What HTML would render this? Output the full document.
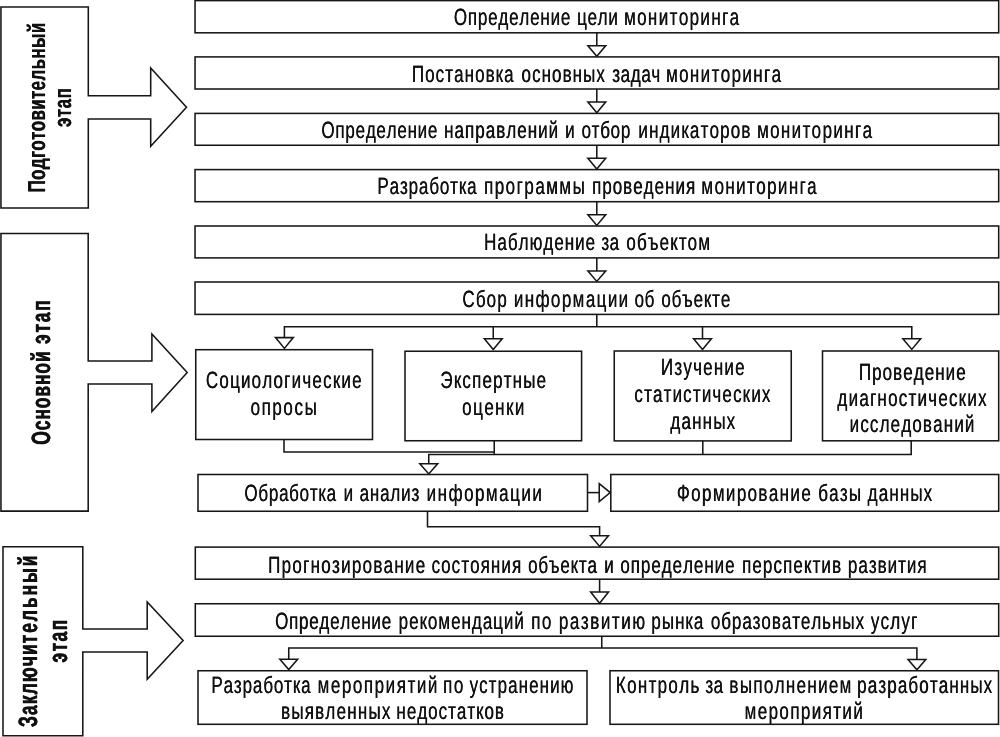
<!DOCTYPE html>
<html lang="ru"><head><meta charset="utf-8"><title>Этапы мониторинга</title>
<style>
html,body{margin:0;padding:0;background:#fff;}
body{width:1000px;height:737px;overflow:hidden;}
svg{display:block;will-change:transform;filter:grayscale(1);}
.ln *{fill:#fff;stroke:#161616;stroke-width:1.55;stroke-linejoin:miter;stroke-linecap:butt;}
.ln path.o{fill:none;}
text{text-rendering:geometricPrecision;font-kerning:none;font-family:"Liberation Sans",Arial,Helvetica,sans-serif;font-size:23.5px;fill:#111;}
text{text-shadow:0.4px 0 0 #111;}
text.b{font-weight:bold;font-size:26.5px;text-shadow:0.9px 0 0 #111;stroke:#111;stroke-width:0.3px;}
</style></head><body>
<svg width="1000" height="737" viewBox="0 0 1000 737">
<rect width="1000" height="737" fill="#fff"/>
<g class="ln">
<rect x="195.05" y="0.6" width="803.65" height="32.2"/>
<rect x="195.05" y="56.9" width="803.65" height="32.1"/>
<rect x="195.05" y="113.4" width="803.65" height="31.85"/>
<rect x="195.05" y="169.6" width="803.65" height="32.1"/>
<rect x="195.05" y="226.0" width="803.65" height="31.9"/>
<rect x="195.05" y="282.0" width="803.65" height="32.4"/>
<path class="o" d="M596.8 32.8 L596.8 45.8"/>
<path d="M587.9 45.8 L605.7 45.8 L596.8 56.3 Z"/>
<path class="o" d="M596.8 89.0 L596.8 102.0"/>
<path d="M587.9 102.0 L605.7 102.0 L596.8 112.8 Z"/>
<path class="o" d="M596.8 145.25 L596.8 158.25"/>
<path d="M587.9 158.25 L605.7 158.25 L596.8 169.0 Z"/>
<path class="o" d="M596.8 201.7 L596.8 214.7"/>
<path d="M587.9 214.7 L605.7 214.7 L596.8 225.4 Z"/>
<path class="o" d="M596.8 257.9 L596.8 270.9"/>
<path d="M587.9 270.9 L605.7 270.9 L596.8 281.4 Z"/>
<path class="o" d="M596.8 314.4 L596.8 326.8"/>
<path class="o" d="M284.4 337.6 L284.4 326.8 L911.8 326.8 L911.8 338.6"/>
<path class="o" d="M493.25 326.8 L493.25 338.6"/>
<path class="o" d="M702.5 326.8 L702.5 338.6"/>
<path d="M275.5 337.6 L293.3 337.6 L284.4 348.4 Z"/>
<path d="M484.35 338.7 L502.15 338.7 L493.25 349.6 Z"/>
<path d="M693.6 338.7 L711.4 338.7 L702.5 349.6 Z"/>
<path d="M902.9 338.7 L920.7 338.7 L911.8 349.4 Z"/>
<rect x="195.75" y="349.7" width="176.75" height="89.8"/>
<rect x="405.0" y="351.25" width="176.6" height="89.5"/>
<rect x="614.25" y="351.0" width="177.0" height="89.9"/>
<rect x="822.5" y="351.0" width="176.2" height="89.8"/>
<path class="o" d="M284 439.5 L284 452.0 L494.25 452.0"/>
<path class="o" d="M494.25 440.75 L494.25 454.4"/>
<path class="o" d="M428.75 463.75 L428.75 454.4 L911.2 454.4 L911.2 440.4"/>
<path class="o" d="M702.8 440.75 L702.8 454.4"/>
<path d="M419.85 463.75 L437.65 463.75 L428.75 473.9 Z"/>
<rect x="198.0" y="474.5" width="389.5" height="36.75"/>
<rect x="610.8" y="474.5" width="387.9" height="36.75"/>
<path class="o" d="M587.5 492.6 L599.25 492.6"/>
<path d="M599.25 483.7 L599.25 501.5 L610.2 492.6 Z"/>
<path class="o" d="M427.5 511.25 L427.5 526.75 L599.6 526.75 L599.6 535.75"/>
<path d="M590.7 535.75 L608.5 535.75 L599.6 546.4 Z"/>
<rect x="195.3" y="547.1" width="803.4" height="32.1"/>
<rect x="195.3" y="603.75" width="803.4" height="32.5"/>
<path class="o" d="M599.6 579.2 L599.6 592.0"/>
<path d="M590.7 592.0 L608.5 592.0 L599.6 603.2 Z"/>
<path class="o" d="M601.75 636.25 L601.75 648.0"/>
<path class="o" d="M288.75 659.3 L288.75 648.0 L916.9 648.0 L916.9 659.4"/>
<path d="M279.85 659.3 L297.65 659.3 L288.75 669.6 Z"/>
<path d="M908.0 659.4 L925.8 659.4 L916.9 669.8 Z"/>
<rect x="198.0" y="670.75" width="389.0" height="53.55"/>
<rect x="610.0" y="670.75" width="388.5" height="53.55"/>
<path d="M0.95 7.0 L88.3 7.0 L88.3 95.8 L150.7 95.8 L150.7 68.0 L186.5 107.3 L150.7 146.3 L150.7 119.0 L88.3 119.0 L88.3 208.0 L0.95 208.0 Z"/>
<path d="M0.95 233.5 L88.2 233.5 L88.2 361.0 L151.9 361.0 L151.9 333.9 L187.2 372.5 L151.9 411.4 L151.9 384.0 L88.2 384.0 L88.2 511.1 L0.95 511.1 Z"/>
<path d="M3.0 546.8 L82.8 546.8 L82.8 628.9 L147.2 628.9 L147.2 602.0 L183.1 640.5 L147.2 679.3 L147.2 651.9 L82.8 651.9 L82.8 735.8 L3.0 735.8 Z"/>
</g>
<g>
<text transform="translate(0 24.9) scale(0.723 1)"><tspan x="627.52" style="letter-spacing:1.134px">Определение</tspan> <tspan x="797.96" style="letter-spacing:1.001px">цели</tspan> <tspan x="862.96" style="letter-spacing:1.919px">мониторинга</tspan></text>
<text transform="translate(0 82.4) scale(0.723 1)"><tspan x="569.46" style="letter-spacing:1.483px">Постановка</tspan> <tspan x="721.14" style="letter-spacing:1.463px">основных</tspan> <tspan x="846.60" style="letter-spacing:0.878px">задач</tspan> <tspan x="921.05" style="letter-spacing:1.905px">мониторинга</tspan></text>
<text transform="translate(0 137.5) scale(0.723 1)"><tspan x="444.39" style="letter-spacing:1.051px">Определение</tspan> <tspan x="614.00" style="letter-spacing:1.448px">направлений</tspan> <tspan x="781.54" style="letter-spacing:0.000px">и</tspan> <tspan x="804.13" style="letter-spacing:1.026px">отбор</tspan> <tspan x="882.88" style="letter-spacing:1.604px">индикаторов</tspan> <tspan x="1046.92" style="letter-spacing:1.905px">мониторинга</tspan></text>
<text transform="translate(0 193.8) scale(0.723 1)"><tspan x="521.86" style="letter-spacing:1.211px">Разработка</tspan> <tspan x="669.32" style="letter-spacing:2.073px">программы</tspan> <tspan x="818.70" style="letter-spacing:1.405px">проведения</tspan> <tspan x="970.02" style="letter-spacing:1.933px">мониторинга</tspan></text>
<text transform="translate(0 250.0) scale(0.723 1)"><tspan x="669.44" style="letter-spacing:1.407px">Наблюдение</tspan> <tspan x="831.50" style="letter-spacing:0.830px">за</tspan> <tspan x="866.23" style="letter-spacing:1.578px">объектом</tspan></text>
<text transform="translate(0 307.0) scale(0.723 1)"><tspan x="639.33" style="letter-spacing:1.603px">Сбор</tspan> <tspan x="710.54" style="letter-spacing:1.961px">информации</tspan> <tspan x="877.61" style="letter-spacing:0.830px">об</tspan> <tspan x="914.50" style="letter-spacing:1.165px">объекте</tspan></text>
<text transform="translate(0 387.7) scale(0.723 1)"><tspan x="284.56" style="letter-spacing:1.690px">Социологические</tspan></text>
<text transform="translate(0 414.9) scale(0.723 1)"><tspan x="346.32" style="letter-spacing:2.223px">опросы</tspan></text>
<text transform="translate(0 387.9) scale(0.723 1)"><tspan x="609.03" style="letter-spacing:1.623px">Экспертные</tspan></text>
<text transform="translate(0 414.8) scale(0.723 1)"><tspan x="639.12" style="letter-spacing:2.007px">оценки</tspan></text>
<text transform="translate(0 374.8) scale(0.723 1)"><tspan x="913.98" style="letter-spacing:1.685px">Изучение</tspan></text>
<text transform="translate(0 401.8) scale(0.723 1)"><tspan x="877.29" style="letter-spacing:1.598px">статистических</tspan></text>
<text transform="translate(0 428.5) scale(0.723 1)"><tspan x="927.02" style="letter-spacing:1.663px">данных</tspan></text>
<text transform="translate(0 379.8) scale(0.723 1)"><tspan x="1187.72" style="letter-spacing:1.469px">Проведение</tspan></text>
<text transform="translate(0 406) scale(0.723 1)"><tspan x="1158.14" style="letter-spacing:1.707px">диагностических</tspan></text>
<text transform="translate(0 432.4) scale(0.723 1)"><tspan x="1175.00" style="letter-spacing:1.598px">исследований</tspan></text>
<text transform="translate(0 501.4) scale(0.723 1)"><tspan x="337.89" style="letter-spacing:1.022px">Обработка</tspan> <tspan x="475.04" style="letter-spacing:0.000px">и</tspan> <tspan x="497.07" style="letter-spacing:1.185px">анализ</tspan> <tspan x="589.93" style="letter-spacing:2.084px">информации</tspan></text>
<text transform="translate(0 501.4) scale(0.723 1)"><tspan x="935.99" style="letter-spacing:1.917px">Формирование</tspan> <tspan x="1131.54" style="letter-spacing:1.702px">базы</tspan> <tspan x="1199.91" style="letter-spacing:1.580px">данных</tspan></text>
<text transform="translate(0 572.8) scale(0.723 1)"><tspan x="370.71" style="letter-spacing:1.770px">Прогнозирование</tspan> <tspan x="596.79" style="letter-spacing:1.496px">состояния</tspan> <tspan x="730.13" style="letter-spacing:1.153px">объекта</tspan> <tspan x="835.55" style="letter-spacing:0.000px">и</tspan> <tspan x="857.80" style="letter-spacing:1.338px">определение</tspan> <tspan x="1026.17" style="letter-spacing:1.543px">перспектив</tspan> <tspan x="1172.62" style="letter-spacing:1.382px">развития</tspan></text>
<text transform="translate(0 628.6) scale(0.723 1)"><tspan x="380.21" style="letter-spacing:1.078px">Определение</tspan> <tspan x="551.18" style="letter-spacing:1.371px">рекомендаций</tspan> <tspan x="734.61" style="letter-spacing:1.994px">по</tspan> <tspan x="772.76" style="letter-spacing:2.171px">развитию</tspan> <tspan x="900.84" style="letter-spacing:1.338px">рынка</tspan> <tspan x="982.97" style="letter-spacing:1.315px">образовательных</tspan> <tspan x="1204.23" style="letter-spacing:1.709px">услуг</tspan></text>
<text transform="translate(0 692.6) scale(0.723 1)"><tspan x="292.26" style="letter-spacing:1.211px">Разработка</tspan> <tspan x="439.17" style="letter-spacing:2.161px">мероприятий</tspan> <tspan x="612.62" style="letter-spacing:2.271px">по</tspan> <tspan x="649.32" style="letter-spacing:1.481px">устранению</tspan></text>
<text transform="translate(0 719.4) scale(0.723 1)"><tspan x="388.55" style="letter-spacing:1.700px">выявленных</tspan> <tspan x="548.16" style="letter-spacing:1.370px">недостатков</tspan></text>
<text transform="translate(0 692.8) scale(0.723 1)"><tspan x="851.60" style="letter-spacing:1.841px">Контроль</tspan> <tspan x="975.35" style="letter-spacing:0.830px">за</tspan> <tspan x="1008.74" style="letter-spacing:1.841px">выполнением</tspan> <tspan x="1185.35" style="letter-spacing:1.568px">разработанных</tspan></text>
<text transform="translate(0 719.4) scale(0.723 1)"><tspan x="1029.77" style="letter-spacing:1.940px">мероприятий</tspan></text>
<text class="b" transform="translate(45.0 192.58) rotate(-90) scale(0.69 1)" style="font-size:24.5px;letter-spacing:0.559px;text-shadow:0.5px 0 0 #111;stroke-width:0.1px">Подготовительный</text>
<text class="b" transform="translate(70.8 127.18) rotate(-90) scale(0.69 1)" style="font-size:24.5px;letter-spacing:0.764px;text-shadow:0.5px 0 0 #111;stroke-width:0.1px">этап</text>
<text class="b" transform="translate(49.9 0) rotate(-90) scale(0.66 1)" style="font-size:26.5px;text-shadow:0.55px 0 0 #111;stroke-width:0.2px"><tspan x="-674.12" style="letter-spacing:1.331px">Основной</tspan> <tspan x="-521.28" style="letter-spacing:2.525px">этап</tspan></text>
<text class="b" transform="translate(36.9 0) rotate(-90) scale(0.66 1)" style="font-size:26.5px;text-shadow:0.55px 0 0 #111;stroke-width:0.2px"><tspan x="-1101.96" style="letter-spacing:1.633px">Заключи</tspan><tspan x="-974.99" style="letter-spacing:2.891px">тельный</tspan></text>
<text class="b" transform="translate(66.5 662.64) rotate(-90) scale(0.66 1)" style="font-size:26.5px;letter-spacing:2.071px;text-shadow:0.55px 0 0 #111;stroke-width:0.2px">этап</text>
</g>
</svg>
</body></html>
